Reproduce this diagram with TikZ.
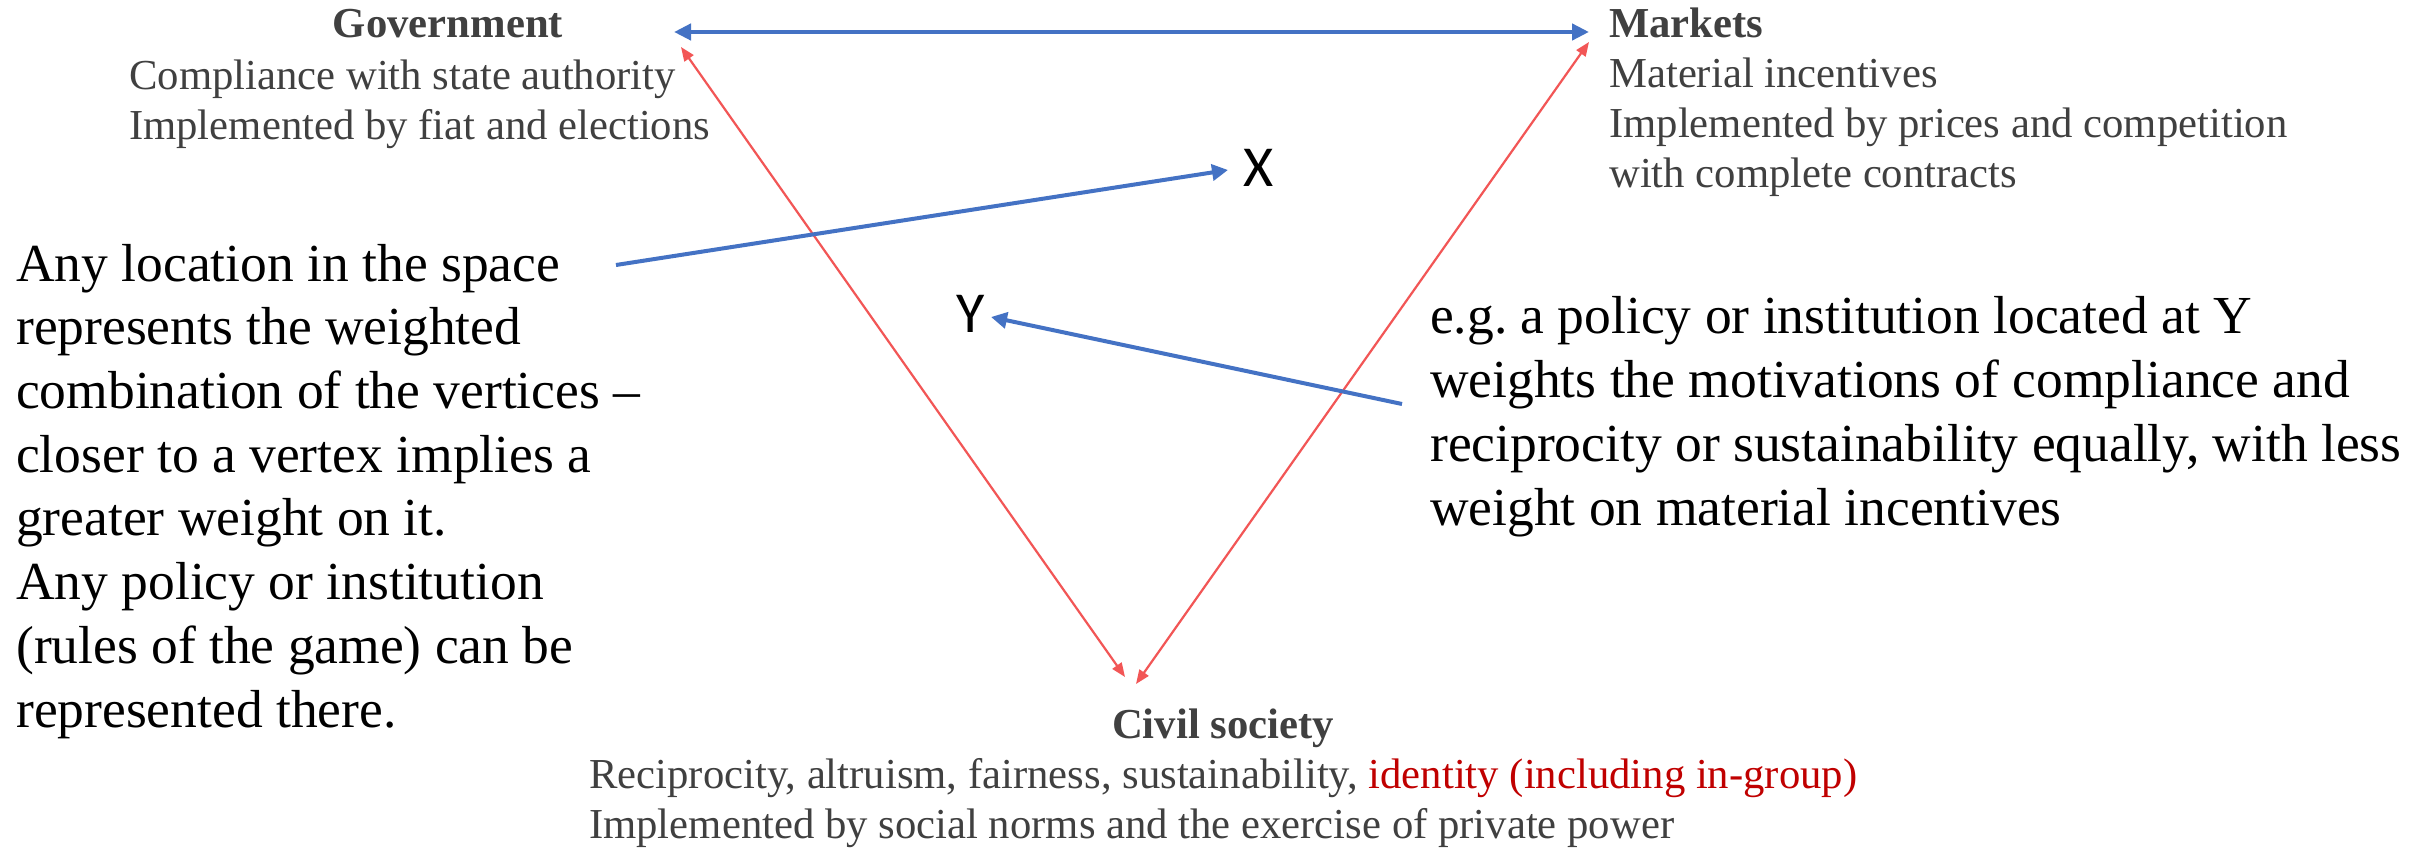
\documentclass[tikz,border=0pt]{standalone}
\usepackage{fontspec}
\setmainfont{Liberation Serif}
\newfontfamily\calfont{Carlito}
\usetikzlibrary{arrows.meta}
\definecolor{ablue}{RGB}{68,114,196}
\definecolor{ared}{RGB}{242,86,86}
\definecolor{tgray}{RGB}{64,64,64}
\definecolor{dred}{RGB}{192,0,0}
\frenchspacing
\begin{document}
\begin{tikzpicture}[x=1pt,y=-1pt,
  title/.style={font=\fontsize{42.7}{50}\selectfont\bfseries, text=tgray, inner sep=0pt, anchor=base},
  sub/.style={font=\fontsize{42.7}{50}\selectfont, text=tgray, inner sep=0pt, anchor=base west, align=left},
  big/.style={font=\fontsize{53.5}{63.7}\selectfont, text=black, inner sep=0pt, anchor=base west, align=left},
  letter/.style={font=\calfont\fontsize{58}{70}\selectfont, text=black, inner sep=0pt, anchor=base west},
  bluedouble/.style={draw=ablue, line width=4.5pt, {Triangle[length=17pt,width=16pt]}-{Triangle[length=17pt,width=16pt]}},
  bluearrow/.style={draw=ablue, line width=4pt, -{Triangle[length=16pt,width=16pt]}},
  reddouble/.style={draw=ared, line width=2.2pt, {Triangle[length=14pt,width=11pt]}-{Triangle[length=14pt,width=11pt]}}
]
\useasboundingbox[fill=white] (0,0) rectangle (2427,850);

% multi-line nodes: the base anchor is the baseline of the last line
\node[title] (gov) at (448,38) {Government};
\node[sub] (govtxt) at (129,140) {Compliance with state authority\\Implemented by fiat and elections};
\node[title, anchor=base west] (mkt) at (1609,38) {Markets};
\node[sub] (mkttxt) at (1609,188) {Material incentives\\Implemented by prices and competition\\with complete contracts};
\node[title] (civ) at (1223,738) {Civil society};
\node[sub] (civtxt) at (589,838) {Reciprocity, altruism, fairness, sustainability, \textcolor{dred}{identity (including in-group)}\\Implemented by social norms and the exercise of private power};

\node[big] (lefttxt) at (16,727) {Any location in the space\\represents the weighted\\combination of the vertices --\\closer to a vertex implies a\\greater weight on it.\\Any policy or institution\\(rules of the game) can be\\represented there.};
\node[big] (righttxt) at (1430,525) {e.g. a policy or institution located at Y\\weights the motivations of compliance and\\reciprocity or sustainability equally, with less\\weight on material incentives};

\node[letter] (X) at (1243,187) {X};
\node[letter] (Y) at (956,332) {Y};

\coordinate (govB) at (674,32);
\coordinate (mktB) at (1589,32);
\coordinate (govR) at (681,47);
\coordinate (civL) at (1125,677);
\coordinate (mktR) at (1589,42);
\coordinate (civR) at (1136,684);
\coordinate (xsrc) at (616,265);
\coordinate (xtip) at (1228,170);
\coordinate (ysrc) at (1402,404);
\coordinate (ytip) at (991,317);

\draw[bluedouble] (govB) -- (mktB);
\draw[reddouble] (govR) -- (civL);
\draw[reddouble] (mktR) -- (civR);
\draw[bluearrow] (xsrc) -- (xtip);
\draw[bluearrow] (ysrc) -- (ytip);
\end{tikzpicture}
\end{document}
